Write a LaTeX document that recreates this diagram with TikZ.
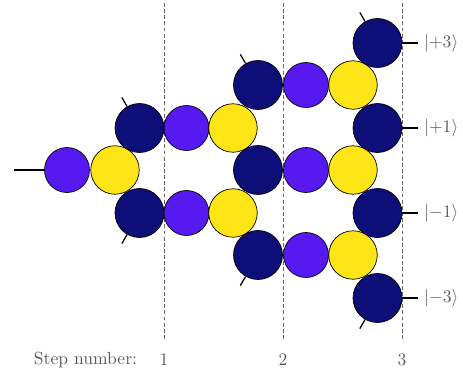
\documentclass[tikz,border=0pt]{standalone}
\usetikzlibrary{positioning}

\definecolor{bsblue}{RGB}{14,14,120}
\definecolor{psviolet}{RGB}{86,26,240}
\definecolor{wpyellow}{RGB}{255,228,24}

\begin{document}
\begin{tikzpicture}[x=0.02cm, y=-0.02cm,
        bs/.style={circle, draw=black, thin, fill=bsblue,
                   minimum size=0.98cm, inner sep=0pt},
        ps/.style={circle, draw=black, thin, fill=psviolet,
                   minimum size=0.9cm, inner sep=0pt},
        wp/.style={circle, draw=black, thin, fill=wpyellow,
                   minimum size=0.97cm, inner sep=0pt},
        guide/.style={black!60, thin, dash pattern=on 2.2pt off 1.3pt},
        lead/.style={black, line width=0.7pt},
        lab/.style={text=black!65}]
      \useasboundingbox (0,0) rectangle (463,375);
      % step separators
      \coordinate (s1t) at (164,3);   \coordinate (s1b) at (164,340);
      \coordinate (s2t) at (283,3);   \coordinate (s2b) at (283,340);
      \coordinate (s3t) at (402,3);   \coordinate (s3b) at (402,340);
      \draw[guide] (s1t) -- (s1b);
      \draw[guide] (s2t) -- (s2b);
      \draw[guide] (s3t) -- (s3b);
      % input
      \node[ps] (p0) at (67,170) {};
      \node[wp] (w0) at (115,170) {};
      \coordinate (in) at (14,170);
      \draw[lead] (in) -- (p0);
      % step 1
      \node[bs] (b1u) at (139.5,128) {};
      \node[bs] (b1d) at (139.5,213) {};
      \node[ps] (p1u) at (186.5,128) {};
      \node[ps] (p1d) at (186.5,213) {};
      \node[wp] (w1u) at (233,128) {};
      \node[wp] (w1d) at (233,213) {};
      \draw[lead] (b1u.120) -- ++(120:6pt);
      \draw[lead] (b1d.240) -- ++(240:6pt);
      % step 2
      \node[bs] (b2u) at (258,85) {};
      \node[bs] (b2m) at (258,170) {};
      \node[bs] (b2d) at (258,255) {};
      \node[ps] (p2u) at (306,85) {};
      \node[ps] (p2m) at (306,170) {};
      \node[ps] (p2d) at (306,255) {};
      \node[wp] (w2u) at (353,85) {};
      \node[wp] (w2m) at (353,170) {};
      \node[wp] (w2d) at (353,255) {};
      \draw[lead] (b2u.120) -- ++(120:6pt);
      \draw[lead] (b2d.240) -- ++(240:6pt);
      % step 3 (outputs)
      \node[bs] (b3a) at (377.5,43) {};
      \node[bs] (b3b) at (377.5,128) {};
      \node[bs] (b3c) at (377.5,213) {};
      \node[bs] (b3d) at (377.5,298) {};
      \draw[lead] (b3a.120) -- ++(120:6pt);
      \draw[lead] (b3d.240) -- ++(240:6pt);
      \coordinate (o3) at (418,43);
      \coordinate (o1) at (418,128);
      \coordinate (m1) at (418,213);
      \coordinate (m3) at (418,298);
      \draw[lead] (b3a) -- (o3);
      \draw[lead] (b3b) -- (o1);
      \draw[lead] (b3c) -- (m1);
      \draw[lead] (b3d) -- (m3);
      \node[lab, right=0pt of o3] {$|{+3}\rangle$};
      \node[lab, right=0pt of o1] {$|{+1}\rangle$};
      \node[lab, right=0pt of m1] {$|{-1}\rangle$};
      \node[lab, right=0pt of m3] {$|{-3}\rangle$};
      % step numbers
      \node[lab] (sn) at (85.5,360) {Step number:};
      \node[lab] (n1) at (164,360) {1};
      \node[lab] (n2) at (283,360) {2};
      \node[lab] (n3) at (402,360) {3};
    \end{tikzpicture}
\end{document}
